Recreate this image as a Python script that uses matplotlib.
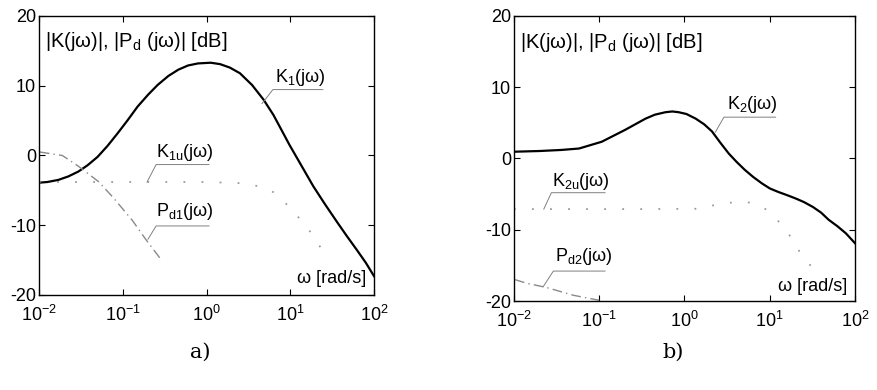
import matplotlib
matplotlib.use("Agg")
import matplotlib.pyplot as plt

plt.rcParams['font.family'] = ['Liberation Sans', 'DejaVu Sans']
plt.rcParams['mathtext.default'] = 'regular'
plt.rcParams['axes.unicode_minus'] = False

# --- panel a) data (w in rad/s, magnitude in dB) ---
w_k1 = [0.01, 0.0126, 0.017, 0.0224, 0.0295, 0.038, 0.05, 0.066, 0.087, 0.115,
        0.15, 0.2, 0.26, 0.35, 0.46, 0.6, 0.79, 1.12, 1.45, 1.9, 2.5, 3.5,
        4.8, 6.3, 7.9, 9.8, 13.5, 18.8, 26, 36, 47, 62, 80, 100]
k1_db = [-3.9, -3.8, -3.5, -3.0, -2.3, -1.4, -0.2, 1.4, 3.2, 5.1,
         7.0, 8.7, 10.1, 11.4, 12.3, 12.9, 13.2, 13.3, 13.1, 12.6, 11.8, 10.1,
         8.0, 5.8, 3.6, 1.5, -1.4, -4.4, -7.0, -9.5, -11.5, -13.5, -15.4, -17.3]

w_k1u = [0.01, 0.1, 1, 3, 5.6, 8, 14, 18, 23, 28]
k1u_db = [-3.8, -3.8, -3.8, -4.0, -4.8, -6.3, -9.5, -11.2, -13.2, -15.0]

w_pd1 = [0.0102, 0.019, 0.03, 0.052, 0.079, 0.13, 0.19, 0.29]
pd1_db = [0.5, 0.0, -1.6, -3.8, -6.2, -9.3, -12.1, -15.0]

# --- panel b) data ---
w_k2 = [0.01, 0.02, 0.036, 0.058, 0.107, 0.2, 0.35, 0.45, 0.6, 0.72, 0.85,
        1.05, 1.35, 1.7, 2.1, 2.6, 3.3, 4.1, 5.1, 6.4, 8.1, 10, 12.6, 16,
        20, 25, 32, 40, 49, 62, 78, 100]
k2_db = [0.95, 1.05, 1.2, 1.4, 2.35, 4.0, 5.6, 6.15, 6.5, 6.6, 6.5,
         6.25, 5.6, 4.8, 3.8, 2.3, 0.7, -0.5, -1.6, -2.6, -3.5, -4.2, -4.7, -5.15,
         -5.6, -6.1, -6.8, -7.6, -8.6, -9.5, -10.5, -11.9]

w_k2u = [0.01, 0.3, 1.5, 2.4, 3.4, 5.4, 8.1, 11.5, 19, 23.5, 31]
k2u_db = [-7.1, -7.1, -7.05, -6.45, -6.2, -6.1, -6.7, -8.2, -11.5, -13.6, -15.2]

w_pd2 = [0.0103, 0.014, 0.024, 0.05, 0.1]
pd2_db = [-17.0, -17.5, -18.1, -19.2, -19.9]

ylabel_txt = '|K(jω)|, |P$_d$ (jω)| [dB]'
fs = 13

fig = plt.figure(figsize=(8.77, 3.90), dpi=100)
ax1 = fig.add_axes([0.0445, 0.2436, 0.382, 0.7154])
ax2 = fig.add_axes([0.586, 0.2282, 0.389, 0.7308])


def style_axis(ax):
    ax.set_xscale('log')
    ax.set_xlim(0.01, 100)
    ax.set_ylim(-20, 20)
    ax.set_yticks([-20, -10, 0, 10, 20])
    ax.set_xticks([0.01, 0.1, 1, 10, 100])
    ax.minorticks_off()
    ax.tick_params(direction='in', top=True, right=True, length=4,
                   labelsize=fs, pad=2)
    ax.tick_params(axis='x', pad=7)
    for s in ax.spines.values():
        s.set_linewidth(1.0)
    ax.text(0.0117, 16.3, ylabel_txt, fontsize=14.5, va='center', ha='left')


def leader(ax, tx, ty, hx0, hx1, hy, px, py, label):
    ax.text(tx, ty, label, fontsize=fs, va='center', ha='left')
    ax.plot([px, hx0, hx1], [py, hy, hy], color='#808080', lw=0.7)


# panel a)
style_axis(ax1)
ax1.plot(w_k1, k1_db, color='black', lw=1.6)
ax1.plot(w_k1u, k1u_db, color='#9a9a9a', lw=1.3, linestyle=(0, (1, 9)))
ax1.plot(w_pd1, pd1_db, color='#8a8a8a', lw=1.0, linestyle=(0, (7, 3, 1, 3)))
leader(ax1, 6.6, 11.2, 6.2, 24.5, 9.45, 4.6, 7.45, 'K$_1$(jω)')
leader(ax1, 0.25, 0.4, 0.25, 1.07, -1.3, 0.195, -3.8, 'K$_{1u}$(jω)')
leader(ax1, 0.25, -8.1, 0.25, 1.07, -10.1, 0.2, -12.0, 'P$_{d1}$(jω)')
ax1.text(80, -17.6, 'ω [rad/s]', fontsize=fs, va='center', ha='right')

# panel b)
style_axis(ax2)
ax2.plot(w_k2, k2_db, color='black', lw=1.6)
ax2.plot(w_k2u, k2u_db, color='#9a9a9a', lw=1.3, linestyle=(0, (1, 9)))
ax2.plot(w_pd2, pd2_db, color='#8a8a8a', lw=1.0, linestyle=(0, (7, 3, 1, 3)))
leader(ax2, 3.16, 7.6, 2.9, 11.7, 5.8, 2.3, 3.7, 'K$_2$(jω)')
leader(ax2, 0.028, -3.2, 0.0275, 0.117, -4.8, 0.0224, -7.1, 'K$_{2u}$(jω)')
leader(ax2, 0.030, -13.7, 0.029, 0.117, -15.8, 0.022, -18.0, 'P$_{d2}$(jω)')
ax2.text(80, -17.9, 'ω [rad/s]', fontsize=fs, va='center', ha='right')

fig.text(0.228, 0.097, 'a)', fontsize=15, family='DejaVu Serif', ha='center', va='center')
fig.text(0.767, 0.097, 'b)', fontsize=15, family='DejaVu Serif', ha='center', va='center')

fig.savefig('out.png', dpi=100)
